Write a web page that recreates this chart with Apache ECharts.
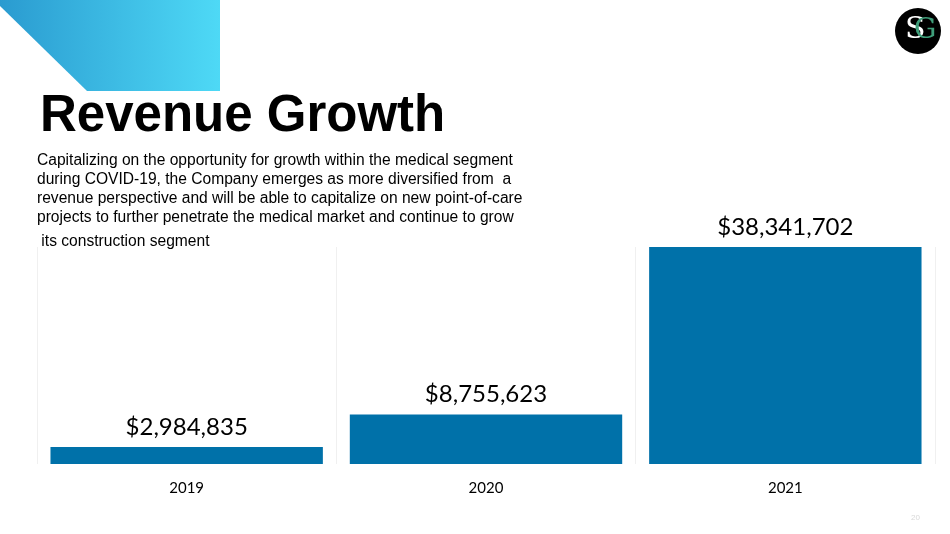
<!DOCTYPE html>
<html>
<head>
<meta charset="utf-8">
<script src="https://cdn.jsdelivr.net/npm/echarts@6/dist/echarts.min.js"></script>
<style>html,body{margin:0;padding:0;background:#fff}#c{width:950px;height:534px}</style>
</head>
<body>
<div id="c"></div>
<script>
const categories = ['2019', '2020', '2021'];
const revenue = [2984835, 8755623, 38341702];
const titleText = 'Revenue Growth';
const bodyLines = [
  'Capitalizing on the opportunity for growth within the medical segment',
  'during COVID-19, the Company emerges as more diversified from  a',
  'revenue perspective and will be able to capitalize on new point-of-care',
  'projects to further penetrate the medical market and continue to grow',
  ' its construction segment'
];
const pageNumber = '20';

function fmt(v) { return '$' + v.toLocaleString('en-US'); }

const chart = echarts.init(document.getElementById('c'));
const graphics = [
  {
    type: 'polygon', silent: true,
    shape: { points: [[0,0],[220,0],[220,91],[87,91],[0,6]] },
    style: { fill: new echarts.graphic.LinearGradient(0,0,1,0,[{offset:0,color:'#2a9bd0'},{offset:1,color:'#4ed9f6'}]) }
  },
  {
    type: 'text',
    style: { x: 40, y: 91, text: titleText, font: 'bold 51px "Liberation Sans"', fill: '#000' }
  },
  {
    type: 'circle', shape: { cx: 918, cy: 31, r: 23 }, style: { fill: '#000' }
  },
  {
    type: 'text', style: { x: 905, y: 15, text: 'S', font: '30px "DejaVu Serif"', fill: '#fff' }
  },
  {
    type: 'text', style: { x: 914, y: 17, text: 'G', font: '28px "DejaVu Serif"', fill: '#3f9e7a' }
  },
  {
    type: 'text', style: { x: 911, y: 514, text: pageNumber, font: '8px "Liberation Sans"', fill: '#d8d8d8' }
  }
];
bodyLines.forEach((t, i) => {
  graphics.push({
    type: 'text',
    style: { x: 37, y: 153 + i * 19 + (i === 4 ? 5 : 0), text: t, font: '15.6px "Liberation Sans"', fill: '#000' }
  });
});

chart.setOption({
  animation: false,
  graphic: graphics,
  grid: { left: 37, right: 15, top: 247, bottom: 70 },
  xAxis: {
    type: 'category', data: categories,
    axisLine: { show: false }, axisTick: { show: false },
    axisLabel: { color: '#000', fontFamily: 'Lato', fontSize: 15, margin: 17 },
    splitLine: { show: true, lineStyle: { color: '#f0f0f0', width: 1 } }
  },
  yAxis: {
    type: 'value', min: 0, max: 'dataMax', show: false, splitLine: { show: false }
  },
  series: [{
    type: 'bar', data: revenue, barCategoryGap: '9%',
    itemStyle: { color: '#0071a9' },
    label: { show: true, position: 'top', distance: 8, formatter: p => fmt(p.value), color: '#000', fontFamily: 'Lato', fontSize: 24 }
  }]
});
</script>
</body>
</html>
